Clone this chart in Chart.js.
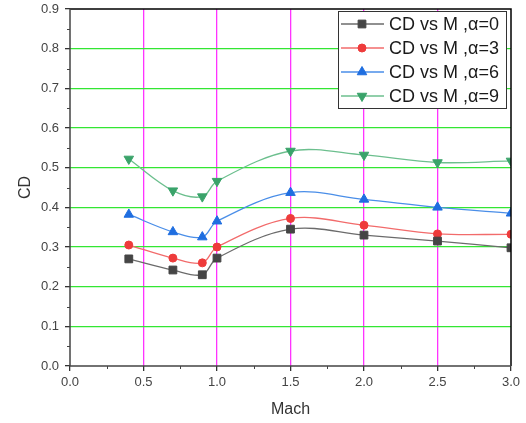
<!DOCTYPE html>
<html>
<head>
<meta charset="utf-8">
<script src="https://cdn.jsdelivr.net/npm/chart.js@4"></script>
<style>
  html, body { margin: 0; padding: 0; background: #fff; }
  #wrap { width: 526px; height: 423px; }
</style>
</head>
<body>
<div id="wrap"><canvas id="cd"></canvas></div>
<script>
// Mach numbers and CD values
var mach = [0.4, 0.7, 0.9, 1.0, 1.5, 2.0, 2.5, 3.0];
var cdA0 = [0.27, 0.242, 0.23, 0.272, 0.345, 0.33, 0.315, 0.298];
var cdA3 = [0.305, 0.272, 0.26, 0.30, 0.372, 0.355, 0.333, 0.332];
var cdA6 = [0.382, 0.338, 0.325, 0.365, 0.437, 0.42, 0.40, 0.385];
var cdA9 = [0.522, 0.442, 0.427, 0.466, 0.542, 0.532, 0.513, 0.517];
var seriesNames = ["CD vs M ,\u03b1=0", "CD vs M ,\u03b1=3", "CD vs M ,\u03b1=6", "CD vs M ,\u03b1=9"];

function pts(ys) {
    return mach.map(function (m, i) { return { x: m, y: ys[i] }; });
}

function makeSet(label, ys, line, fill, style, rot, r) {
    return {
        label: label,
        data: pts(ys),
        borderColor: line,
        backgroundColor: fill,
        pointBackgroundColor: fill,
        pointBorderColor: fill,
        pointStyle: style,
        pointRotation: rot,
        pointRadius: r,
        pointBorderWidth: 1,
        borderWidth: 1.3,
        tension: 0.35,
        fill: false
    };
}

// frame, minor ticks and legend box
var decorations = {
    id: 'decorations',
    afterDraw: function (chart) {
        var ctx = chart.ctx, a = chart.chartArea;
        var xs = chart.scales.x, ys = chart.scales.y;
        ctx.save();
        ctx.strokeStyle = '#000';
        ctx.lineWidth = 1.5;
        ctx.beginPath();
        ctx.moveTo(a.left, a.top); ctx.lineTo(a.right, a.top); ctx.lineTo(a.right, a.bottom);
        ctx.stroke();
        ctx.strokeStyle = '#444';
        ctx.lineWidth = 1.5;
        ctx.beginPath();
        ctx.moveTo(a.left, a.top); ctx.lineTo(a.left, a.bottom); ctx.lineTo(a.right, a.bottom);
        ctx.stroke();
        // minor ticks
        ctx.lineWidth = 1;
        ctx.beginPath();
        for (var v = 0.25; v < 3; v += 0.5) {
            var px = Math.round(xs.getPixelForValue(v)) + 0.5;
            ctx.moveTo(px, a.bottom); ctx.lineTo(px, a.bottom + 3);
        }
        for (var w = 0.05; w < 0.9; w += 0.1) {
            var py = Math.round(ys.getPixelForValue(w)) + 0.5;
            ctx.moveTo(a.left - 3, py); ctx.lineTo(a.left, py);
        }
        ctx.stroke();

        // legend
        var lx = 338, ly = 11, lw = 168, lh = 97;
        ctx.fillStyle = '#fff';
        ctx.fillRect(lx, ly, lw, lh);
        ctx.strokeStyle = '#333';
        ctx.lineWidth = 1;
        ctx.strokeRect(lx + 0.5, ly + 0.5, lw, lh);
        ctx.font = '18px "Liberation Sans", Arial, sans-serif';
        ctx.textBaseline = 'middle';
        chart.data.datasets.forEach(function (ds, i) {
            var y = ly + 13 + i * 24;
            ctx.strokeStyle = ds.borderColor;
            ctx.lineWidth = 1.5;
            ctx.beginPath(); ctx.moveTo(lx + 3, y); ctx.lineTo(lx + 46, y); ctx.stroke();
            ctx.fillStyle = ds.pointBackgroundColor;
            ctx.strokeStyle = ds.pointBorderColor;
            ctx.lineWidth = 1;
            Chart.helpers.drawPoint(ctx, {
                pointStyle: ds.pointStyle, rotation: ds.pointRotation,
                radius: ds.pointRadius, borderWidth: 1
            }, lx + 24, y);
            ctx.fillStyle = '#1a1a1a';
            ctx.fillText(ds.label, lx + 51, y + 1);
        });
        ctx.restore();
    }
};

var axisFont = '"Liberation Sans", Arial, sans-serif';

var cdChart = new Chart(document.getElementById('cd'), {
    type: 'line',
    data: {
        datasets: [
            makeSet(seriesNames[0], cdA0, '#6b6b6b', '#454545', 'rect', 0, 5.5),
            makeSet(seriesNames[1], cdA3, '#f26b6b', '#ee3b3b', 'circle', 0, 4),
            makeSet(seriesNames[2], cdA6, '#4a8ee8', '#1f6ee0', 'triangle', 0, 5.5),
            makeSet(seriesNames[3], cdA9, '#6cbf8e', '#3aa36a', 'triangle', 180, 5.5)
        ]
    },
    options: {
        responsive: true,
        maintainAspectRatio: false,
        animation: false,
        layout: { padding: { top: 9, right: 15, left: 0, bottom: 0 } },
        plugins: {
            legend: { display: false },
            tooltip: { enabled: false }
        },
        scales: {
            x: {
                type: 'linear',
                min: 0, max: 3,
                afterFit: function (s) { s.height = 57; s.paddingRight = 0; s.paddingLeft = 0; },
                ticks: {
                    stepSize: 0.5,
                    color: '#444',
                    padding: 4,
                    font: { size: 13, family: axisFont },
                    callback: function (v) { return v.toFixed(1); }
                },
                grid: {
                    color: function (c) {
                        var v = c.tick ? c.tick.value : 0;
                        return (v > 0 && v < 3) ? '#ff33ff' : 'rgba(0,0,0,0)';
                    },
                    lineWidth: 1.3,
                    tickColor: '#333',
                    tickLength: 5
                },
                border: { display: false },
                title: {
                    display: true, text: 'Mach', color: '#333',
                    font: { size: 16, family: axisFont },
                    padding: { top: 5 }
                }
            },
            y: {
                min: 0, max: 0.9,
                afterFit: function (s) { s.width = 70; s.paddingTop = 0; s.paddingBottom = 0; },
                ticks: {
                    stepSize: 0.1,
                    color: '#444',
                    padding: 6,
                    font: { size: 13, family: axisFont },
                    callback: function (v) { return v.toFixed(1); }
                },
                grid: {
                    color: function (c) {
                        var v = c.tick ? c.tick.value : 0;
                        return (v > 0.05 && v < 0.85) ? '#33e633' : 'rgba(0,0,0,0)';
                    },
                    lineWidth: 1.3,
                    tickColor: '#333',
                    tickLength: 5
                },
                border: { display: false },
                title: {
                    display: true, text: 'CD', color: '#333',
                    font: { size: 16, family: axisFont },
                    padding: { top: 16, bottom: 0 }
                }
            }
        }
    },
    plugins: [decorations]
});
</script>
</body>
</html>
